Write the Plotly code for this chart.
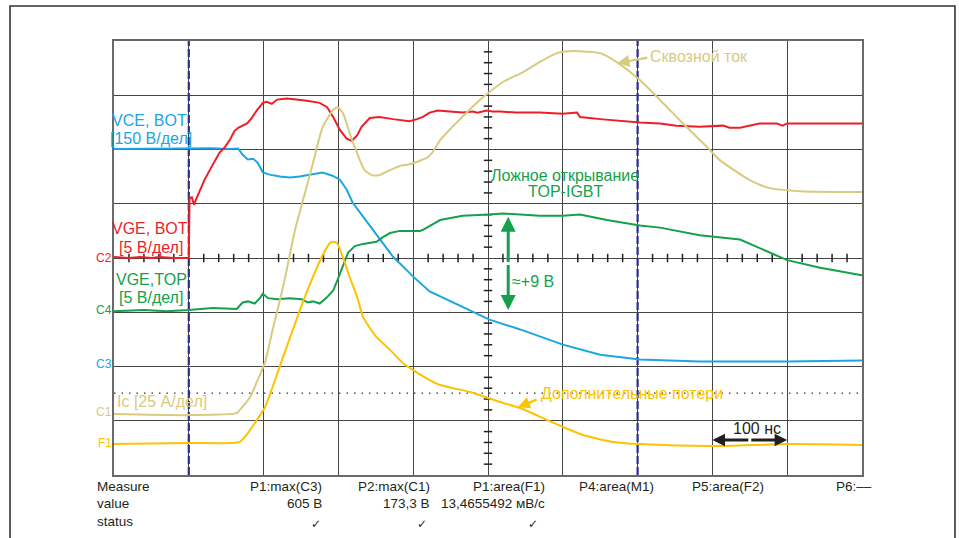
import plotly.graph_objects as go

# ---------------- data (time in ns, trigger at 0, 100 ns/div) ----------------
# VCE, BOT  (V)   - channel C3
t_vce = [-100, -50, 0, 30, 55, 66, 72, 79, 86, 92, 99, 108, 122, 135, 148, 162, 179, 192, 202, 211,
         219, 233, 246, 259, 273, 282, 300, 322, 336, 402, 443, 500, 550, 603, 683, 800, 900]
vce = [594, 595, 594, 596, 594, 595, 578, 565, 567, 556, 529, 523, 518, 515, 518, 523, 529, 520, 509, 482,
       446, 407, 371, 335, 296, 278, 241, 200, 186, 122, 95, 53, 25, 12, 6, 6, 9]

# VGE, BOT  (V)   - channel C2
t_vge_bot = [-100, -80, -65, -50, -39, -20, 0, 1, 4, 7, 9, 15, 21, 28, 35, 41, 48,
             55, 61, 66, 78, 84, 91, 99, 104, 111, 118, 131, 144, 158, 175, 185, 193, 202, 211, 218, 225,
             231, 242, 255, 273, 282, 295, 305, 313, 322, 333, 349, 366, 380, 386, 398, 406, 416, 438, 469, 500,
             519, 523, 536, 550, 603, 630, 652, 683, 714, 723, 737, 763, 786, 794, 800, 840, 861, 884, 900]
vge_bot = [0.1, 0.0, 0.1, 0.0, 0.1, 0.0, 0.0, 5.5, 5.6, 4.9, 5.3, 6.3, 7.2, 8.1, 9.0, 9.7, 10.2,
           10.9, 11.7, 12.0, 12.4, 12.9, 13.6, 14.3, 14.4, 14.2, 14.6, 14.7, 14.6, 14.5, 14.3, 13.9, 13.0, 11.8, 11.0, 10.8, 11.3,
           12.1, 12.9, 13.0, 12.8, 12.7, 12.6, 12.8, 13.0, 13.4, 13.6, 13.5, 13.4, 13.5, 13.4, 13.6, 13.5, 13.5, 13.4, 13.4, 13.3,
           13.4, 13.0, 12.9, 12.8, 12.5, 12.4, 12.2, 12.1, 12.2, 12.0, 12.0, 12.4, 12.4, 12.2, 12.4, 12.4, 12.4, 12.4, 12.4]

# VGE, TOP  (V)   - channel C4
t_vge_top = [-100, -60, -30, 0, 32, 64, 72, 79, 88, 95, 99, 106, 118, 135, 151, 159, 166, 175, 185, 193,
             199, 206, 213, 222, 233, 251, 259, 269, 282, 309, 313, 336, 366, 402, 420, 443, 469, 500, 523, 559,
             603, 630, 683, 737, 777, 800, 844, 900]
vge_top = [-0.1, 0.0, -0.1, 0.0, 0.2, 0.1, 0.7, 0.8, 0.6, 1.1, 1.5, 1.1, 1.0, 1.1, 1.0, 0.7, 0.8, 0.6, 1.2, 1.8,
           2.8, 4.0, 5.3, 5.9, 6.1, 6.3, 6.7, 7.1, 7.3, 7.3, 7.4, 8.3, 8.7, 8.8, 8.9, 8.8, 8.7, 8.7, 8.8, 8.3,
           7.8, 7.6, 6.9, 6.5, 5.3, 4.6, 3.9, 3.2]

# Ic  (A)   - channel C1
t_ic = [-100, 0, 64, 68, 82, 92, 102, 112, 126, 142, 148, 166, 179, 193, 199, 206, 215, 225, 235, 245,
        255, 269, 282, 296, 318, 325, 336, 352, 372, 389, 402, 420, 447, 469, 492, 509, 523, 550, 572, 603,
        630, 660, 693, 710, 750, 777, 817, 900]
ic = [-0.9, -1.4, -0.5, 0.9, 6.9, 14.7, 23.0, 37.8, 57.6, 83.9, 91.7, 114.7, 131.3, 139.2, 140.5, 137.8, 128.6, 119.3, 111.5, 109.2,
      109.2, 111.5, 113.4, 114.3, 117.1, 119.3, 125.3, 131.3, 138.2, 143.8, 147.5, 152.1, 156.7, 161.3, 165.4, 166.3, 166.3, 165.4, 161.3, 153.0,
      143.8, 133.2, 122.1, 116.1, 106.9, 103.2, 101.8, 101.4]

# P  (kW)   - channel F1
t_p = [-100, 0, 68, 79, 91, 102, 112, 126, 139, 152, 166, 179, 189, 193, 198, 206, 215, 225, 233, 242,
       251, 269, 286, 300, 322, 336, 376, 416, 443, 479, 500, 527, 567, 603, 700, 800, 900]
p = [-0.5, 0.0, 0.5, 4.6, 10.6, 16.6, 25.8, 39.6, 52.1, 64.5, 76.5, 86.6, 92.2, 92.6, 92.2, 85.7, 76.5, 67.3, 58.1, 53.0,
     48.8, 42.9, 36.9, 33.6, 29.0, 26.7, 23.5, 18.9, 16.1, 10.6, 7.4, 3.7, 0.5, -0.5, -1.4, -0.5, -0.9]

# channel settings: ground position (div from bottom), units per division
ch_offset = {"C3": 2.05, "C2": 4.0, "C4": 3.04, "C1": 1.16, "F1": 0.59}
ch_scale = {"C3": 150, "C2": 5, "C4": 5, "C1": 25, "F1": 25}

measure_names = ["P1:max(C3)", "P2:max(C1)", "P1:area(F1)", "P4:area(M1)", "P5:area(F2)", "P6:––"]
measure_values = ["605 В", "173,3 В", "13,4655492 мВ/с", "", "", ""]
measure_status = ["✓", "✓", "✓", "", "", ""]

# ---------------- styling ----------------
FONT = "Liberation Sans, Arial, sans-serif"
BLUE = "#1ba6e1"
RED = "#ec1f27"
GREEN = "#14a14b"
KHAKI = "#d8ca7e"
YELLOW = "#fbc300"
NAVY = "#2b2d8e"
INK = "#231f20"
LBL = 16

N_DIV_X, N_DIV_Y = 10, 8
X0, X1 = -100, 900

fig = go.Figure()

# centre-cross minor ticks
hx = [X0 + k * 20 for k in range(1, 50) if k % 5 != 0]
vy = [k * 0.2 for k in range(1, 40) if k % 5 != 0]
fig.add_trace(go.Scatter(x=hx, y=[4] * len(hx), mode="markers", yaxis="y",
                         marker=dict(symbol="line-ns", size=6, line=dict(width=1.5, color="#222")),
                         hoverinfo="skip", showlegend=False))
fig.add_trace(go.Scatter(x=[400] * len(vy), y=vy, mode="markers", yaxis="y",
                         marker=dict(symbol="line-ew", size=6, line=dict(width=1.5, color="#222")),
                         hoverinfo="skip", showlegend=False))

series = [
    (t_vce, vce, "C3", BLUE, "y2", "linear"),
    (t_vge_bot, vge_bot, "C2", RED, "y3", "linear"),
    (t_vge_top, vge_top, "C4", GREEN, "y4", "linear"),
    (t_ic, ic, "C1", KHAKI, "y5", "spline"),
    (t_p, p, "F1", YELLOW, "y6", "spline"),
]
for tx, vals, ch, col, ax, shape in series:
    fig.add_trace(go.Scatter(x=tx, y=vals, mode="lines", yaxis=ax,
                             line=dict(color=col, width=2, shape=shape,
                                       smoothing=0.6 if shape == "spline" else None),
                             showlegend=False, hoverinfo="skip"))

layout_axes = {}
for i, (_, _, ch, _, ax, _) in enumerate(series):
    off, scl = ch_offset[ch], ch_scale[ch]
    name = "yaxis" + ax[1:]
    layout_axes[name] = dict(range=[-off * scl, (N_DIV_Y - off) * scl], overlaying="y",
                             visible=False, fixedrange=True)

fig.update_layout(
    width=959, height=538, autosize=False,
    margin=dict(l=114, r=97, t=41, b=63, pad=0),
    paper_bgcolor="white", plot_bgcolor="white",
    font=dict(family=FONT, size=15, color=INK),
    showlegend=False,
    xaxis=dict(range=[X0, X1], dtick=100, tick0=X0, showgrid=True, gridcolor="#454545", gridwidth=1,
               zeroline=False, showticklabels=False, ticks="", showline=True, mirror=True,
               linecolor="#6a6a6a", linewidth=2),
    yaxis=dict(range=[0, N_DIV_Y], dtick=1, tick0=0, showgrid=True, gridcolor="#454545", gridwidth=1,
               zeroline=False, showticklabels=False, ticks="", showline=True, mirror=True,
               linecolor="#6a6a6a", linewidth=2),
    **layout_axes,
)

shapes = []
# trigger / cursor dashed lines
for xv in (0, 600):
    shapes.append(dict(type="line", xref="x", yref="y", x0=xv, x1=xv, y0=0, y1=N_DIV_Y, layer="between",
                       line=dict(color=NAVY, width=2.2, dash="8px,3px")))
# dotted level line
shapes.append(dict(type="line", xref="x", yref="y", x0=X0, x1=X1, y0=1.51, y1=1.51, layer="between",
                   line=dict(color="#333", width=1.3, dash="1.5px,6px")))
# outer frame
shapes.append(dict(type="rect", xref="paper", yref="paper", x0=-0.139, x1=1.1243, y0=-0.2, y1=1.0806,
                   line=dict(color="#333", width=1.6), fillcolor="rgba(0,0,0,0)"))
fig.update_layout(shapes=shapes)

ann = []


def txt(x, y, s, color, xanchor="center", size=LBL, xref="x", yref="y", family=FONT):
    ann.append(dict(x=x, y=y, xref=xref, yref=yref, text=s, showarrow=False, xanchor=xanchor,
                    yanchor="middle", borderpad=0, font=dict(color=color, size=size, family=family)))


def arrow(x, y, ax_, ay_, color, width=2.5, size=1.0):
    ann.append(dict(x=x, y=y, ax=ax_, ay=ay_, xref="x", yref="y", axref="x", ayref="y", text="",
                    showarrow=True, arrowhead=2, arrowsize=size, arrowwidth=width, arrowcolor=color,
                    standoff=0, startstandoff=0))


# channel labels
txt(-52, 6.54, "VCE, BOT", BLUE)
txt(-51, 6.21, "[150 В/дел]", BLUE)
txt(-52, 4.55, "VGE, BOT", RED)
txt(-51, 4.20, "[5 В/дел]", RED)
txt(-50, 3.61, "VGE,TOP", GREEN)
txt(-51, 3.28, "[5 В/дел]", GREEN)
txt(-97, 1.346, "Ic [25 А/дел]", KHAKI, xanchor="left")
txt(-102, 0.774, "P[25 кВт/дел]", YELLOW, xanchor="left")

# ground markers
for ch, col in (("C2", RED), ("C4", GREEN), ("C3", BLUE), ("C1", KHAKI), ("F1", YELLOW)):
    txt(-0.002, ch_offset[ch], ch, col, xanchor="right", size=12, xref="paper")

# explanatory notes
txt(503, 5.53, "Ложное открывание", GREEN)
txt(503, 5.22, "TOP-IGBT", GREEN)
arrow(427, 4.76, 427, 3.90, GREEN, width=3, size=1.0)
arrow(427, 3.04, 427, 3.90, GREEN, width=3, size=1.0)
txt(431, 3.56, "≈+9 В", GREEN, xanchor="left")

txt(615, 7.72, "Сквозной ток", KHAKI, xanchor="left")
arrow(573, 7.59, 615, 7.70, KHAKI, width=2.4, size=1.0)

txt(470, 1.51, "Дополнительные потери", YELLOW, xanchor="left")
arrow(440, 1.25, 467, 1.40, YELLOW, width=2.4, size=1.0)

txt(759, 0.85, "100 нс", INK)
arrow(700, 0.645, 750, 0.645, INK, width=2.8, size=0.9)
arrow(800, 0.645, 750, 0.645, INK, width=2.8, size=0.9)

# measurement table
row_y = [-0.0276, -0.0668, -0.1060]
for s, yy in zip(["Measure", "value", "status"], row_y):
    txt(-0.024, yy, s, INK, xanchor="left", size=13.5, xref="paper", yref="paper")
col_right = [0.2794, 0.4238, 0.5775, 0.7233, 0.8703, 1.0147]
chk_x = [0.270, 0.4118, 0.5602]
chk_y = -0.1120
for i, name in enumerate(measure_names):
    txt(col_right[i], row_y[0], name, INK, xanchor="right", size=13.5, xref="paper", yref="paper")
    if measure_values[i]:
        txt(col_right[i], row_y[1], measure_values[i], INK, xanchor="right", size=13.5, xref="paper", yref="paper")
    if measure_status[i]:
        txt(chk_x[i], chk_y, measure_status[i], INK, xanchor="center", size=12,
            xref="paper", yref="paper", family="DejaVu Sans")

fig.update_layout(annotations=ann)
fig.write_html("out.html")
